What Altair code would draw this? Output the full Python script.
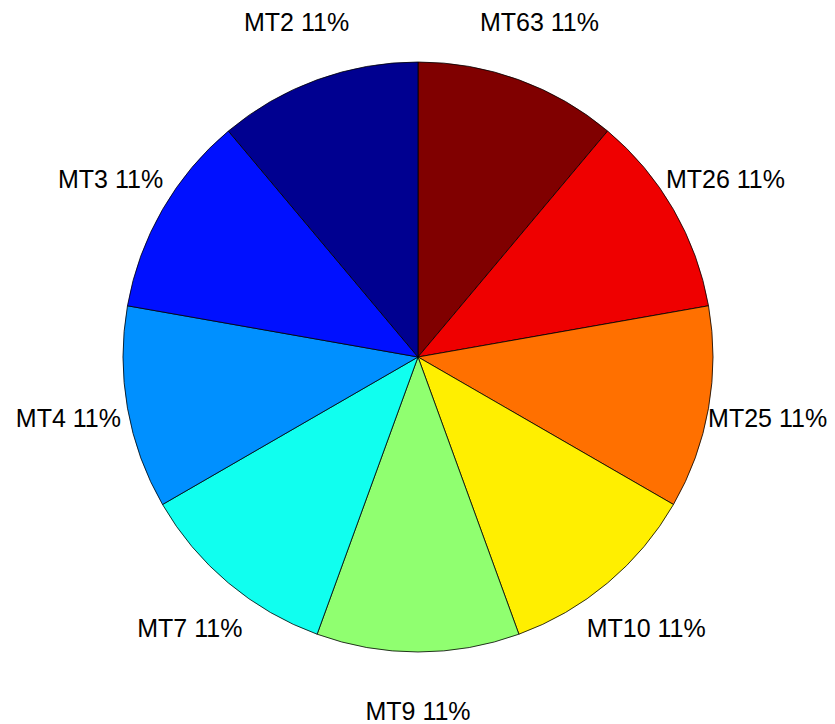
import altair as alt
import pandas as pd

# slices in clockwise order from 12 o'clock
labels = ["MT63", "MT26", "MT25", "MT10", "MT9", "MT7", "MT4", "MT3", "MT2"]
values = [1, 1, 1, 1, 1, 1, 1, 1, 1]
colors = ["#800000", "#EF0000", "#FF7000", "#FFEF00", "#90FF70",
          "#10FFEF", "#0090FF", "#0010FF", "#000090"]

total = sum(values)
df = pd.DataFrame({
    "name": labels,
    "value": values,
    "order": list(range(len(labels))),
    "label": [f"{n} {round(v / total * 100)}%" for n, v in zip(labels, values)],
})

cx, cy = 410, 349

base = alt.Chart(df).encode(
    theta=alt.Theta("value:Q", stack=True),
    order=alt.Order("order:Q"),
)

pie = base.mark_arc(stroke="black", strokeWidth=0.8, outerRadius=295).encode(
    color=alt.Color("name:N", scale=alt.Scale(domain=labels, range=colors), legend=None),
    x=alt.value(cx),
    y=alt.value(cy),
)

text = base.mark_text(
    radius=355, font="Liberation Sans", fontSize=25, color="black",
    align="center", baseline="middle",
).encode(
    text="label:N",
    x=alt.value(cx),
    y=alt.value(cy),
)

chart = (pie + text).properties(
    width=819, height=716, padding=0, autosize=alt.AutoSizeParams(type="none"),
    background="white",
).configure_view(stroke=None)

chart.save("out.html", embed_options={"renderer": "svg", "actions": False})
